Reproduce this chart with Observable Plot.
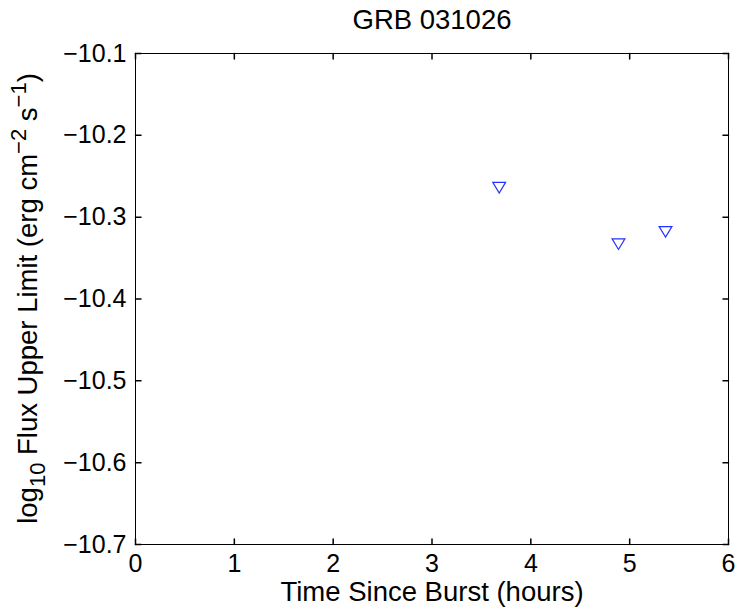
<!DOCTYPE html>
<html>
<head>
<meta charset="utf-8">
<script src="https://cdn.jsdelivr.net/npm/d3@7"></script>
<script src="https://cdn.jsdelivr.net/npm/@observablehq/plot@0.6"></script>
<style>
  html, body { margin: 0; padding: 0; background: #ffffff; }
</style>
</head>
<body>
<div id="chart"></div>
<script>
const title = "GRB 031026";
const xLabel = "Time Since Burst (hours)";
const times = [3.68, 4.887, 5.363];
const fluxLimits = [-10.264, -10.333, -10.318];
const xTicks = [0, 1, 2, 3, 4, 5, 6];
const yTicks = [-10.7, -10.6, -10.5, -10.4, -10.3, -10.2, -10.1];

const points = times.map((t, i) => ({t, f: fluxLimits[i]}));

const tickShape = {draw(ctx, l) { ctx.moveTo(0, 0); ctx.lineTo(0, -l); }};
const triDown = {draw(ctx, size) {
  const r = Math.sqrt(size / Math.PI);
  ctx.moveTo(-1.333 * r, -1.1 * r);
  ctx.lineTo(1.333 * r, -1.1 * r);
  ctx.lineTo(0, 1.1 * r);
  ctx.closePath();
}};
const fmtY = d => (d < 0 ? "\u2212" : "") + Math.abs(d).toFixed(1);
const TL = 5.5;

const chart = Plot.plot({
  width: 741,
  height: 610,
  marginLeft: 135,
  marginRight: 13,
  marginTop: 53,
  marginBottom: 66,
  style: {fontFamily: "'Liberation Sans', Arial, sans-serif", fontSize: "25px", background: "#ffffff", color: "#000"},
  x: {domain: [0, 6]},
  y: {domain: [-10.7, -10.1]},
  marks: [
    Plot.axisX(xTicks, {tickSize: 0, tickPadding: 10, label: null, fontSize: 25}),
    Plot.axisY(yTicks, {tickSize: 0, tickPadding: 9, label: null, tickFormat: fmtY, fontSize: 25}),
    Plot.vector(xTicks, {x: d => d, y: -10.7, length: TL, rotate: 0, anchor: "start", shape: tickShape, stroke: "#000"}),
    Plot.vector(xTicks, {x: d => d, y: -10.1, length: TL, rotate: 180, anchor: "start", shape: tickShape, stroke: "#000"}),
    Plot.vector(yTicks, {x: 0, y: d => d, length: TL, rotate: 90, anchor: "start", shape: tickShape, stroke: "#000"}),
    Plot.vector(yTicks, {x: 6, y: d => d, length: TL, rotate: -90, anchor: "start", shape: tickShape, stroke: "#000"}),
    Plot.frame({stroke: "#000", strokeWidth: 1}),
    Plot.dot(points, {x: "t", y: "f", symbol: triDown, r: 4.8, stroke: "#2233ff", fill: "none", strokeWidth: 1.2}),
    Plot.text([title], {frameAnchor: "top", dy: -33, text: d => d, fontSize: 27.5, lineAnchor: "middle"}),
    Plot.text([xLabel], {frameAnchor: "bottom", dy: 48, text: d => d, fontSize: 27.5, lineAnchor: "middle"})
  ]
});

// y-axis label with sub/superscripts, as real text
const svg = d3.select(chart);
const yl = svg.append("text")
  .attr("transform", "translate(27,298.5) rotate(-90)")
  .attr("text-anchor", "middle")
  .attr("dy", "0.35em")
  .attr("font-size", 27.5)
  .attr("fill", "#000");
yl.append("tspan").text("log");
yl.append("tspan").attr("font-size", 22).attr("dy", 8).text("10");
yl.append("tspan").attr("dy", -8).text(" Flux Upper Limit (erg cm");
yl.append("tspan").attr("font-size", 22).attr("dy", -11).text("\u22122");
yl.append("tspan").attr("dy", 11).text(" s");
yl.append("tspan").attr("font-size", 22).attr("dy", -11).text("\u22121");
yl.append("tspan").attr("dy", 11).text(")");

document.getElementById("chart").appendChild(chart);
</script>
</body>
</html>
